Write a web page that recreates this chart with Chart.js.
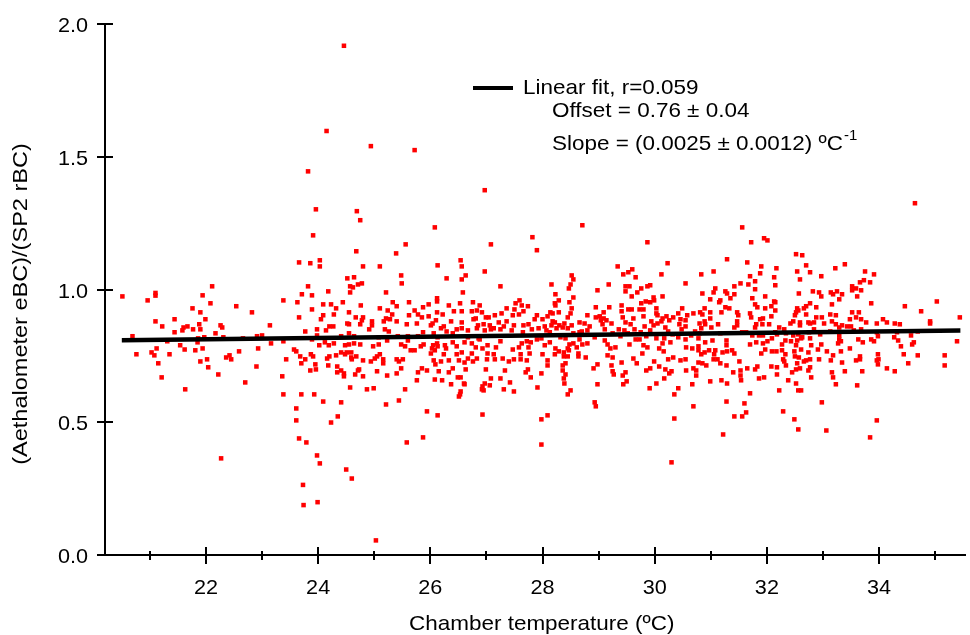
<!DOCTYPE html>
<html>
<head>
<meta charset="utf-8">
<script src="https://cdn.jsdelivr.net/npm/chart.js@4.4.0/dist/chart.umd.min.js"></script>
<style>
  html, body { margin: 0; padding: 0; background: #fff; }
  #wrap { width: 970px; height: 635px; }
</style>
</head>
<body>
<div id="wrap"><canvas id="chart" width="970" height="635"></canvas></div>
<script>
// Measured points, [chamber temperature ºC, eBC/rBC ratio], grouped by temperature range
const pts20to23 = [
  [20.51,0.974],[21.10,0.987],[21.10,0.977],[20.96,0.959],[22.11,1.012],[21.94,0.978],[22.08,0.948],[22.54,0.937],
  [21.76,0.929],[21.90,0.914],[21.44,0.888],[21.99,0.888],[21.10,0.880],[21.22,0.861],[21.88,0.869],[22.26,0.865],
  [22.29,0.857],[21.60,0.857],[21.67,0.861],[21.58,0.846],[21.77,0.850],[21.90,0.850],[21.44,0.839],[22.17,0.835],
  [20.69,0.824],[22.31,0.820],[21.86,0.816],[21.97,0.820],[22.66,0.816],[21.31,0.805],[21.85,0.801],[21.54,0.790],
  [21.12,0.778],[21.94,0.778],[21.62,0.774],[21.81,0.771],[22.59,0.767],[20.76,0.756],[21.03,0.763],[21.08,0.752],
  [21.35,0.756],[22.36,0.744],[22.42,0.752],[22.45,0.737],[22.02,0.737],[21.90,0.729],[21.15,0.722],[22.04,0.707],
  [22.22,0.680],[21.21,0.669],[22.70,0.650],[21.63,0.624],[22.27,0.364]
];
const pts23to25 = [
  [23.82,1.445],[23.96,1.302],[24.69,1.295],[24.75,1.261],[23.91,1.204],[24.68,1.144],[23.66,1.102],[23.86,1.099],
  [24.03,1.110],[24.03,1.087],[24.80,1.087],[25.10,1.087],[24.52,1.042],[24.64,1.046],[24.57,1.012],[24.62,1.008],
  [24.71,1.019],[24.78,1.023],[24.57,0.989],[23.82,1.012],[23.71,0.982],[23.89,0.978],[24.18,0.993],[25.21,0.989],
  [23.38,0.959],[23.63,0.952],[24.09,0.944],[24.23,0.944],[24.32,0.929],[24.44,0.952],[24.76,0.940],[25.10,0.929],
  [25.33,0.952],[22.82,0.914],[23.89,0.925],[24.55,0.914],[25.24,0.921],[24.09,0.903],[24.28,0.906],[23.66,0.895],
  [24.05,0.888],[24.67,0.895],[24.80,0.895],[24.78,0.884],[24.96,0.880],[25.17,0.880],[25.21,0.891],[25.28,0.888],
  [25.32,0.906],[23.14,0.865],[24.52,0.872],[24.55,0.869],[24.75,0.869],[24.96,0.865],[24.20,0.861],[24.27,0.861],
  [24.14,0.846],[23.98,0.850],[23.77,0.842],[24.91,0.850],[25.19,0.850],[25.26,0.842],[24.55,0.835],[23.98,0.827],
  [24.41,0.824],[24.64,0.824],[23.00,0.827],[22.91,0.824],[25.08,0.820],[23.89,0.812],[23.38,0.805],[23.16,0.797],
  [24.12,0.801],[24.02,0.790],[24.19,0.790],[24.28,0.797],[24.48,0.790],[24.55,0.793],[24.64,0.797],[24.75,0.793],
  [24.98,0.786],[25.08,0.793],[25.23,0.808],[22.93,0.778],[23.57,0.774],[23.61,0.767],[23.68,0.748],[23.87,0.756],
  [23.91,0.748],[23.77,0.737],[23.43,0.737],[23.70,0.722],[23.95,0.718],[23.96,0.699],[23.86,0.695],[24.16,0.740],
  [24.20,0.748],[24.32,0.752],[24.41,0.763],[24.48,0.756],[24.51,0.763],[24.59,0.763],[24.59,0.744],[24.60,0.737],
  [24.68,0.748],[24.80,0.733],[24.94,0.729],[25.01,0.740],[25.05,0.748],[25.10,0.756],[25.16,0.737],[25.16,0.722],
  [24.18,0.714],[24.34,0.710],[24.34,0.688],[24.41,0.695],[24.46,0.684],[24.46,0.673],[24.66,0.680],[24.71,0.695],
  [24.73,0.699],[24.80,0.673],[25.05,0.692],[25.23,0.676],[22.90,0.710],[23.36,0.673],[24.57,0.631],[24.87,0.624],
  [24.99,0.628],[23.38,0.605],[23.70,0.605],[23.93,0.605],[24.09,0.578],[24.41,0.575],[25.21,0.567],[23.61,0.552],
  [24.35,0.522],[23.61,0.507],[24.23,0.499],[23.66,0.439],[23.79,0.424],[23.98,0.375],[24.03,0.345],[24.50,0.322],
  [24.60,0.288],[24.46,1.918],[24.15,1.597],[24.94,1.540],[23.74,0.188],[23.99,0.199],[23.73,0.264],[25.03,0.055]
];
const pts25to28 = [
  [25.72,1.525],[26.97,1.374],[26.08,1.234],[25.56,1.170],[27.08,1.170],[27.82,1.197],[27.90,1.148],[25.39,1.136],
  [26.54,1.110],[26.56,1.087],[26.13,1.091],[26.97,1.068],[25.48,1.053],[25.49,1.023],[26.29,1.042],[26.63,1.053],
  [26.56,1.038],[27.25,1.012],[26.58,0.989],[25.62,0.952],[25.40,0.937],[25.87,0.933],[25.97,0.944],[26.12,0.967],
  [26.12,0.955],[26.33,0.940],[26.53,0.948],[26.76,0.952],[26.88,0.940],[26.83,0.921],[25.72,0.921],[25.78,0.906],
  [25.62,0.903],[25.97,0.899],[26.12,0.914],[26.22,0.906],[26.42,0.918],[26.56,0.918],[26.74,0.918],[26.92,0.914],
  [26.99,0.895],[27.04,0.895],[27.15,0.903],[27.27,0.910],[27.36,0.929],[27.50,0.925],[27.52,0.948],[27.59,0.959],
  [27.63,0.940],[27.74,0.937],[27.66,0.918],[27.47,0.903],[27.58,0.906],[27.90,0.903],[27.86,0.888],[25.85,0.895],
  [25.40,0.880],[25.58,0.869],[25.76,0.872],[26.01,0.865],[26.04,0.872],[26.10,0.884],[26.19,0.854],[26.24,0.861],
  [26.37,0.880],[26.56,0.876],[26.77,0.888],[26.81,0.891],[26.85,0.865],[26.95,0.869],[27.06,0.865],[27.13,0.854],
  [27.22,0.876],[27.31,0.861],[27.36,0.880],[27.49,0.865],[27.66,0.865],[27.75,0.869],[27.81,0.850],[27.93,0.854],
  [25.87,0.839],[26.06,0.835],[26.29,0.842],[26.40,0.835],[26.47,0.850],[26.56,0.854],[26.67,0.846],[26.83,0.854],
  [26.97,0.846],[27.08,0.850],[27.25,0.850],[27.45,0.846],[27.65,0.839],[25.42,0.824],[25.60,0.824],[25.78,0.824],
  [26.13,0.820],[26.67,0.820],[26.86,0.816],[27.90,0.812],[25.48,0.793],[25.60,0.808],[25.88,0.793],[26.05,0.790],
  [26.12,0.797],[26.26,0.790],[26.40,0.801],[26.61,0.801],[26.74,0.797],[26.88,0.812],[27.02,0.790],[27.25,0.805],
  [27.63,0.797],[27.72,0.805],[27.79,0.801],[25.55,0.786],[25.65,0.771],[25.72,0.771],[25.83,0.786],[26.03,0.778],
  [26.08,0.771],[26.13,0.786],[26.28,0.778],[26.47,0.786],[26.81,0.782],[26.93,0.778],[27.17,0.782],[27.47,0.774],
  [27.58,0.782],[27.75,0.782],[26.01,0.759],[26.24,0.756],[26.47,0.756],[26.56,0.763],[26.74,0.759],[27.02,0.759],
  [27.13,0.756],[27.61,0.756],[27.77,0.759],[25.40,0.737],[25.51,0.737],[25.44,0.729],[26.06,0.733],[26.19,0.729],
  [26.33,0.733],[26.51,0.733],[26.61,0.725],[26.67,0.740],[26.76,0.729],[26.83,0.740],[27.01,0.737],[27.15,0.737],
  [27.29,0.740],[27.40,0.729],[27.49,0.737],[27.61,0.737],[27.72,0.733],[26.09,0.718],[25.48,0.703],[25.40,0.684],
  [25.85,0.703],[25.94,0.695],[25.78,0.688],[26.15,0.692],[26.33,0.688],[26.40,0.703],[26.63,0.699],[26.99,0.699],
  [27.33,0.695],[27.74,0.699],[27.70,0.688],[26.49,0.669],[26.54,0.669],[27.08,0.665],[27.25,0.665],[27.79,0.669],
  [25.76,0.658],[26.08,0.661],[26.21,0.658],[26.37,0.643],[26.60,0.646],[26.61,0.643],[26.97,0.646],[27.06,0.639],
  [27.42,0.650],[26.93,0.635],[26.92,0.624],[26.95,0.620],[27.31,0.624],[27.49,0.616],[27.91,0.631],[25.55,0.624],
  [26.54,0.616],[26.53,0.605],[26.51,0.597],[25.44,0.582],[25.94,0.541],[26.13,0.526],[26.93,0.529],[25.87,0.443],
  [25.58,0.424]
];
const pts28to30 = [
  [28.71,1.242],[29.87,1.178],[30.23,1.099],[29.34,1.087],[29.60,1.076],[29.44,1.057],[29.53,1.065],[29.66,1.046],
  [30.12,1.057],[28.52,1.053],[28.55,1.038],[28.50,1.019],[28.47,1.004],[28.16,1.019],[29.18,1.019],[28.98,0.997],
  [29.48,1.012],[29.55,1.012],[29.48,0.993],[29.76,1.004],[29.69,0.989],[29.87,1.012],[29.92,1.016],[28.23,0.982],
  [28.55,0.970],[29.59,0.974],[29.98,0.970],[30.14,0.974],[28.29,0.959],[28.22,0.948],[28.23,0.940],[28.48,0.952],
  [29.76,0.948],[29.84,0.955],[29.92,0.952],[29.99,0.959],[28.52,0.929],[28.95,0.933],[29.19,0.933],[29.41,0.940],
  [29.53,0.925],[29.59,0.925],[29.73,0.925],[29.80,0.925],[30.03,0.929],[30.49,0.929],[28.14,0.914],[28.18,0.910],
  [28.29,0.914],[28.50,0.910],[29.09,0.914],[29.41,0.918],[30.03,0.910],[28.09,0.899],[28.45,0.895],[28.80,0.903],
  [28.95,0.895],[29.02,0.899],[29.09,0.891],[29.43,0.895],[29.62,0.891],[29.80,0.899],[30.05,0.903],[30.14,0.891],
  [30.21,0.899],[30.33,0.895],[30.42,0.910],[28.00,0.888],[28.18,0.880],[28.22,0.876],[28.66,0.876],[28.75,0.872],
  [29.04,0.884],[29.14,0.884],[29.23,0.872],[29.48,0.876],[29.57,0.869],[29.94,0.880],[30.05,0.872],[30.12,0.880],
  [30.26,0.884],[30.46,0.888],[28.04,0.861],[28.16,0.865],[28.30,0.865],[28.39,0.872],[28.52,0.865],[28.84,0.861],
  [29.07,0.869],[29.82,0.861],[29.98,0.865],[30.19,0.857],[30.44,0.869],[28.07,0.846],[28.25,0.854],[28.36,0.857],
  [28.45,0.854],[28.70,0.842],[28.80,0.846],[29.11,0.850],[29.36,0.850],[29.46,0.846],[29.64,0.850],[29.92,0.846],
  [30.24,0.842],[30.48,0.850],[28.13,0.839],[28.55,0.835],[28.66,0.839],[29.25,0.835],[29.52,0.835],[29.75,0.839],
  [30.32,0.831],[27.98,0.816],[28.32,0.820],[28.41,0.816],[28.66,0.812],[28.93,0.820],[29.39,0.824],[29.66,0.812],
  [29.73,0.812],[29.85,0.824],[30.03,0.816],[30.17,0.816],[30.42,0.820],[28.13,0.801],[28.04,0.790],[28.48,0.793],
  [28.55,0.797],[28.71,0.793],[28.80,0.797],[29.11,0.808],[29.16,0.793],[29.55,0.793],[30.14,0.797],[30.28,0.801],
  [29.80,0.790],[28.23,0.778],[28.45,0.778],[28.61,0.782],[29.21,0.778],[29.30,0.782],[29.87,0.782],[30.08,0.778],
  [28.00,0.756],[28.22,0.756],[28.29,0.767],[28.38,0.763],[28.47,0.771],[28.64,0.759],[29.16,0.752],[29.78,0.759],
  [30.16,0.767],[28.38,0.748],[28.45,0.748],[28.64,0.748],[28.77,0.744],[29.25,0.744],[29.62,0.740],[30.24,0.737],
  [30.33,0.744],[30.46,0.733],[28.09,0.733],[28.09,0.714],[28.41,0.722],[28.36,0.714],[28.98,0.718],[29.23,0.714],
  [29.41,0.725],[29.68,0.722],[29.99,0.729],[30.08,0.710],[28.91,0.703],[28.36,0.695],[27.98,0.684],[28.41,0.680],
  [29.25,0.692],[29.27,0.680],[29.48,0.688],[29.43,0.676],[29.85,0.695],[29.92,0.703],[30.19,0.699],[30.30,0.692],
  [30.26,0.684],[28.38,0.665],[30.17,0.665],[29.50,0.654],[28.39,0.646],[28.98,0.643],[29.44,0.643],[30.03,0.646],
  [29.91,0.628],[30.42,0.628],[28.50,0.620],[28.45,0.605],[30.35,0.605],[28.93,0.575],[28.95,0.560],[28.09,0.526],
  [27.98,0.511],[30.35,0.514],[27.98,0.416],[30.30,0.349]
];
const pts30to33 = [
  [31.56,1.234],[31.95,1.193],[32.01,1.185],[31.72,1.178],[31.29,1.114],[31.65,1.102],[32.52,1.133],[32.63,1.129],
  [31.90,1.087],[32.17,1.080],[32.70,1.091],[31.05,1.068],[31.88,1.061],[32.54,1.068],[32.77,1.065],[30.83,1.057],
  [31.70,1.050],[32.13,1.046],[32.97,1.050],[32.59,1.038],[31.79,1.031],[30.55,1.023],[31.53,1.023],[31.67,1.019],
  [32.15,1.016],[31.42,1.012],[31.08,1.004],[31.79,1.001],[31.26,0.993],[31.05,0.989],[31.29,0.985],[30.85,0.985],
  [31.42,0.982],[32.57,0.985],[32.82,0.993],[32.93,0.989],[32.97,0.974],[31.35,0.967],[30.99,0.963],[31.74,0.967],
  [31.97,0.974],[31.15,0.952],[31.17,0.959],[32.13,0.955],[32.15,0.952],[31.79,0.944],[32.08,0.937],[30.89,0.929],
  [31.26,0.933],[31.33,0.929],[31.83,0.933],[31.97,0.929],[32.15,0.921],[32.54,0.929],[32.70,0.937],[32.77,0.948],
  [32.88,0.933],[32.66,0.929],[30.55,0.884],[30.58,0.903],[30.69,0.910],[30.81,0.914],[30.85,0.906],[30.99,0.914],
  [30.99,0.891],[31.19,0.914],[31.47,0.914],[31.49,0.903],[31.70,0.910],[31.72,0.895],[31.88,0.888],[31.93,0.891],
  [32.08,0.899],[32.50,0.903],[32.52,0.914],[32.56,0.921],[32.70,0.906],[32.88,0.895],[32.98,0.895],[30.80,0.872],
  [30.89,0.880],[30.90,0.869],[31.13,0.869],[31.47,0.880],[31.47,0.865],[31.81,0.869],[31.92,0.869],[32.04,0.869],
  [32.42,0.872],[32.47,0.880],[32.59,0.876],[32.59,0.865],[32.74,0.876],[32.77,0.872],[32.84,0.876],[33.02,0.872],
  [30.55,0.861],[30.83,0.854],[31.01,0.857],[31.42,0.857],[31.79,0.857],[32.22,0.857],[32.31,0.850],[32.84,0.850],
  [30.72,0.842],[30.80,0.835],[31.17,0.835],[31.56,0.839],[31.63,0.839],[31.74,0.827],[31.86,0.827],[31.93,0.827],
  [32.15,0.839],[32.18,0.831],[32.34,0.835],[32.47,0.827],[32.56,0.831],[32.63,0.820],[32.75,0.839],[32.95,0.831],
  [30.65,0.827],[30.55,0.812],[30.78,0.816],[31.03,0.808],[31.28,0.808],[31.70,0.793],[31.81,0.801],[31.93,0.797],
  [32.01,0.805],[32.09,0.816],[32.33,0.808],[32.43,0.805],[32.54,0.808],[32.61,0.816],[32.77,0.816],[30.90,0.801],
  [31.28,0.790],[32.27,0.793],[32.52,0.790],[32.79,0.790],[32.97,0.793],[30.56,0.782],[30.67,0.778],[30.78,0.786],
  [30.78,0.771],[30.97,0.771],[31.08,0.771],[31.21,0.763],[31.29,0.767],[31.38,0.771],[31.97,0.774],[32.09,0.767],
  [32.17,0.767],[32.27,0.771],[32.33,0.756],[32.49,0.767],[32.61,0.774],[32.74,0.763],[32.91,0.774],[33.07,0.767],
  [30.83,0.756],[30.89,0.763],[31.06,0.756],[31.42,0.759],[31.90,0.759],[30.55,0.737],[31.05,0.737],[31.12,0.737],
  [32.29,0.737],[32.50,0.748],[32.57,0.744],[32.70,0.733],[32.77,0.737],[32.93,0.737],[30.78,0.725],[30.85,0.722],
  [30.92,0.714],[31.17,0.722],[31.28,0.714],[31.51,0.729],[32.31,0.729],[32.54,0.722],[32.66,0.729],[30.56,0.695],
  [30.69,0.703],[30.74,0.695],[31.40,0.688],[31.53,0.695],[31.65,0.703],[31.79,0.699],[31.83,0.710],[32.08,0.710],
  [32.18,0.707],[32.34,0.714],[32.45,0.688],[32.52,0.699],[32.59,0.703],[32.74,0.695],[32.77,0.707],[30.74,0.676],
  [31.53,0.676],[32.18,0.680],[31.86,0.665],[31.95,0.669],[32.79,0.669],[30.99,0.654],[31.19,0.658],[31.29,0.646],
  [31.54,0.658],[32.38,0.658],[32.52,0.646],[30.67,0.643],[32.22,0.620],[32.56,0.620],[32.61,0.620],[31.70,0.609],
  [31.60,0.571],[31.28,0.578],[32.98,0.575],[30.69,0.560],[32.29,0.541],[31.63,0.537],[31.42,0.522],[31.56,0.522],
  [32.49,0.511],[32.56,0.473],[33.06,0.469],[31.22,0.454]
];
const pts33to36 = [
  [34.64,1.325],[33.39,1.095],[33.22,1.080],[33.75,1.068],[33.91,1.057],[33.66,1.027],[33.73,1.035],[33.84,1.027],
  [33.52,1.012],[33.59,1.004],[33.52,0.997],[33.68,0.997],[33.25,0.993],[33.14,0.989],[33.18,0.982],[33.34,0.982],
  [33.61,0.974],[33.29,0.963],[33.86,0.948],[33.16,0.944],[34.46,0.937],[35.03,0.955],[34.75,0.918],[35.44,0.895],
  [33.52,0.914],[33.64,0.914],[33.13,0.906],[33.23,0.903],[33.48,0.888],[33.59,0.895],[33.68,0.888],[33.16,0.880],
  [33.77,0.876],[33.96,0.872],[34.07,0.888],[34.14,0.876],[34.28,0.872],[34.37,0.869],[34.91,0.880],[34.91,0.872],
  [33.23,0.869],[33.34,0.865],[33.43,0.861],[33.50,0.861],[33.29,0.857],[33.68,0.850],[33.55,0.846],[33.13,0.842],
  [33.96,0.839],[34.32,0.839],[34.69,0.842],[33.29,0.827],[33.98,0.824],[34.27,0.820],[34.57,0.827],[33.29,0.812],
  [33.32,0.805],[33.27,0.797],[33.63,0.812],[33.86,0.812],[33.91,0.805],[33.71,0.801],[34.34,0.808],[34.62,0.801],
  [34.59,0.793],[35.39,0.805],[34.39,0.786],[33.48,0.778],[33.32,0.767],[33.98,0.756],[34.44,0.756],[34.69,0.752],
  [35.17,0.752],[33.18,0.752],[33.66,0.748],[33.66,0.737],[33.59,0.733],[33.96,0.733],[33.99,0.737],[33.14,0.733],
  [33.34,0.725],[33.98,0.718],[34.52,0.722],[35.17,0.714],[34.14,0.703],[33.16,0.688],[33.39,0.692],[33.70,0.692],
  [34.28,0.692],[33.18,0.669],[33.23,0.643],[33.61,0.639],[33.96,0.507],[33.84,0.443]
];

// Linear fit line ends, as drawn
const fitTemps = [20.5, 35.45];
const fitRatios = [0.809, 0.846];

// Axis ticks and texts
const xMajorTicks = [22, 24, 26, 28, 30, 32, 34];
const xMinorTicks = [21, 23, 25, 27, 29, 31, 33, 35];
const yTicks = [0.0, 0.5, 1.0, 1.5, 2.0];
const xTitle = 'Chamber temperature (ºC)';
const yTitle = '(Aethalometer eBC)/(SP2 rBC)';
const fitLabel = 'Linear fit, r=0.059';
const offsetLabel = 'Offset = 0.76 ± 0.04';
const slopeLabel = 'Slope = (0.0025 ± 0.0012) ºC';
const slopeExp = '-1';

const allPoints = [].concat(pts20to23, pts23to25, pts25to28, pts28to30, pts30to33, pts33to36)
    .map(p => ({ x: p[0], y: p[1] }));

const FONT = '"Liberation Sans", Arial, Helvetica, sans-serif';

// draw text squeezed/stretched horizontally
function drawText(ctx, str, x, y, align, sx) {
    ctx.save();
    ctx.translate(x, y);
    ctx.scale(sx, 1);
    ctx.textAlign = align;
    ctx.fillText(str, 0, 0);
    ctx.restore();
}

const axesPlugin = {
    id: 'axesPlugin',
    afterDraw(chart) {
        const ctx = chart.ctx;
        const xs = chart.scales.x;
        const ys = chart.scales.y;
        const area = chart.chartArea;

        ctx.save();
        ctx.strokeStyle = '#000';
        ctx.fillStyle = '#000';
        ctx.lineWidth = 2;

        // axis lines
        ctx.beginPath();
        ctx.moveTo(area.left, area.top);
        ctx.lineTo(area.left, area.bottom);
        ctx.moveTo(area.left, area.bottom);
        ctx.lineTo(area.right, area.bottom);
        ctx.stroke();

        // x ticks
        ctx.beginPath();
        xMajorTicks.forEach(v => {
            const px = Math.round(xs.getPixelForValue(v));
            ctx.moveTo(px, area.bottom - 8);
            ctx.lineTo(px, area.bottom + 9);
        });
        xMinorTicks.forEach(v => {
            const px = Math.round(xs.getPixelForValue(v));
            ctx.moveTo(px, area.bottom - 4);
            ctx.lineTo(px, area.bottom + 5);
        });
        // y ticks
        yTicks.forEach(v => {
            const py = Math.round(ys.getPixelForValue(v));
            ctx.moveTo(area.left - 8, py);
            ctx.lineTo(area.left + 8, py);
        });
        ctx.stroke();

        // tick labels
        ctx.font = '21px ' + FONT;
        ctx.textBaseline = 'alphabetic';
        xMajorTicks.forEach(v => {
            drawText(ctx, String(v), xs.getPixelForValue(v), area.bottom + 39, 'center', 1.03);
        });
        yTicks.forEach(v => {
            drawText(ctx, v.toFixed(1), area.left - 17, ys.getPixelForValue(v) + 8, 'right', 1.03);
        });

        // axis titles
        drawText(ctx, xTitle, 409, 630, 'left', 1.07);
        ctx.save();
        ctx.translate(27, 304);
        ctx.rotate(-Math.PI / 2);
        drawText(ctx, yTitle, 0, 0, 'center', 1.12);
        ctx.restore();

        // fit legend
        ctx.lineWidth = 4;
        ctx.beginPath();
        ctx.moveTo(473, 88);
        ctx.lineTo(513, 88);
        ctx.stroke();
        drawText(ctx, fitLabel, 523, 94, 'left', 1.07);
        drawText(ctx, offsetLabel, 552, 117, 'left', 1.07);
        drawText(ctx, slopeLabel, 552, 150, 'left', 1.07);
        const slopeW = ctx.measureText(slopeLabel).width * 1.07;
        ctx.font = '14px ' + FONT;
        drawText(ctx, slopeExp, 552 + slopeW + 1, 140, 'left', 1.07);

        ctx.restore();
    }
};

new Chart(document.getElementById('chart'), {
    type: 'scatter',
    data: {
        datasets: [
            {
                type: 'line',
                data: fitTemps.map((t, i) => ({ x: t, y: fitRatios[i] })),
                borderColor: '#000',
                borderWidth: 4.5,
                pointRadius: 0,
                fill: false,
                tension: 0
            },
            {
                data: allPoints,
                pointStyle: 'rect',
                pointRadius: 3.2,
                pointBorderWidth: 0,
                backgroundColor: '#ff0000',
                borderColor: '#ff0000'
            }
        ]
    },
    options: {
        responsive: false,
        animation: false,
        devicePixelRatio: 1,
        layout: {
            padding: { left: 105, right: 4, top: 24, bottom: 80 }
        },
        plugins: {
            legend: { display: false },
            tooltip: { enabled: false }
        },
        scales: {
            x: {
                type: 'linear',
                display: false,
                min: 20.2,
                max: 35.55
            },
            y: {
                type: 'linear',
                display: false,
                min: 0,
                max: 2.0
            }
        }
    },
    plugins: [axesPlugin]
});
</script>
</body>
</html>
